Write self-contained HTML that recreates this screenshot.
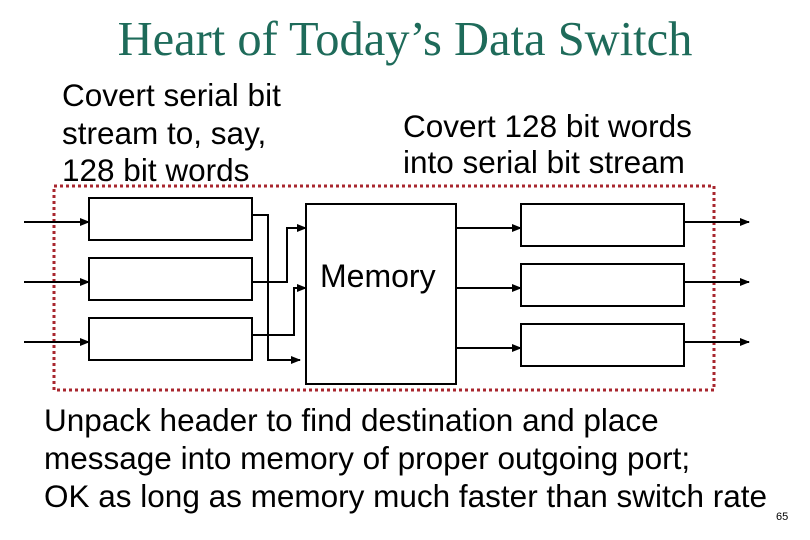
<!DOCTYPE html>
<html><head><style>
body{margin:0;width:810px;height:540px;background:#fff;overflow:hidden;position:relative;font-family:"Liberation Sans",sans-serif}
.t{position:absolute;white-space:nowrap;color:#000}
</style></head><body>
<div class="t" style="left:0;width:810px;text-align:center;top:16px;line-height:48px;font-family:'Liberation Serif',serif;font-size:48.5px;color:#1e6b5a">Heart of Today’s Data Switch</div>
<div class="t" style="left:62px;top:77px;font-size:31.5px;line-height:37.5px">Covert serial bit<br>stream to, say,<br>128 bit words</div>
<div class="t" style="left:403px;top:108px;font-size:31.5px;line-height:36px">Covert 128 bit words<br>into serial bit stream</div>
<svg width="810" height="540" style="position:absolute;left:0;top:0">
<defs><marker id="a" markerWidth="10" markerHeight="8" refX="9" refY="4" orient="auto" markerUnits="userSpaceOnUse"><path d="M0,0L10,4L0,8z"/></marker></defs>
<rect x="54" y="186" width="660" height="204" fill="none" stroke="#a8262e" stroke-width="3" stroke-dasharray="3,3"/>
<g fill="none" stroke="#000" stroke-width="2">
<rect x="89" y="198" width="163" height="42"/><rect x="89" y="258" width="163" height="42"/><rect x="89" y="318" width="163" height="42"/>
<rect x="306" y="204" width="150" height="180"/>
<rect x="521" y="204" width="163" height="42"/><rect x="521" y="264" width="163" height="42"/><rect x="521" y="324" width="163" height="42"/>
<g marker-end="url(#a)">
<line x1="24" y1="222" x2="89" y2="222"/><line x1="24" y1="282" x2="89" y2="282"/><line x1="24" y1="342" x2="89" y2="342"/>
<polyline points="252,215 268,215 268,360 300,360"/>
<polyline points="252,282 287,282 287,228 306,228"/>
<polyline points="252,335 294,335 294,288 306,288"/>
<line x1="456" y1="228" x2="521" y2="228"/><line x1="456" y1="288" x2="521" y2="288"/><line x1="456" y1="348" x2="521" y2="348"/>
<line x1="684" y1="222" x2="749" y2="222"/><line x1="684" y1="282" x2="749" y2="282"/><line x1="684" y1="342" x2="749" y2="342"/>
</g></g>
</svg>
<div class="t" style="left:320px;top:260px;font-size:32px;line-height:32px">Memory</div>
<div class="t" style="left:44px;top:401px;font-size:31.5px;line-height:38px">Unpack header to find destination and place<br>message into memory of proper outgoing port;<br>OK as long as memory much faster than switch rate</div>
<div class="t" style="left:776px;top:511px;font-size:11px">65</div>
</body></html>
